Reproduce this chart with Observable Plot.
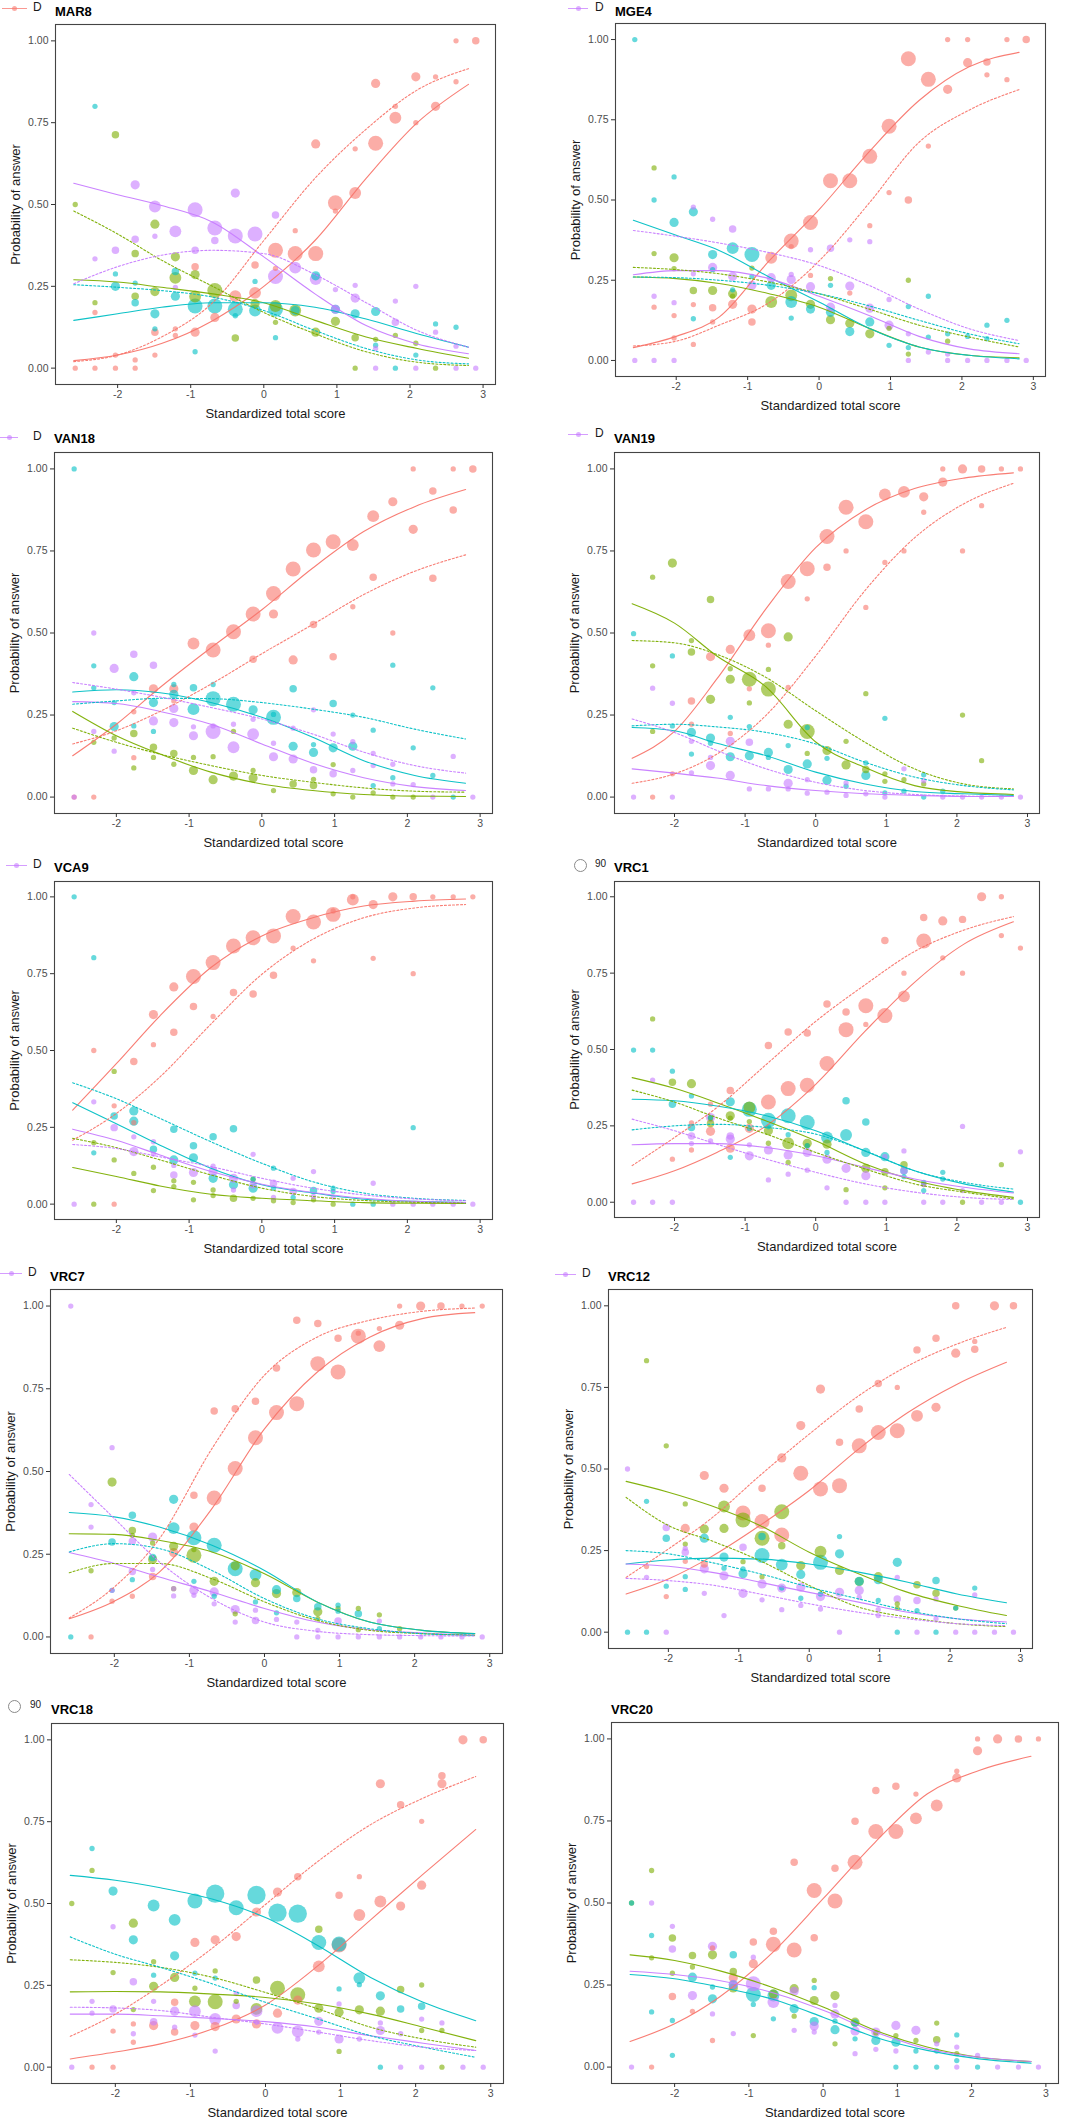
<!DOCTYPE html>
<html><head><meta charset="utf-8">
<script src="https://cdn.jsdelivr.net/npm/d3@7"></script>
<script src="https://cdn.jsdelivr.net/npm/@observablehq/plot@0.6"></script>
<style>
body{margin:0;background:#fff;font-family:"Liberation Sans",Arial,sans-serif;}
#page{position:relative;width:1075px;height:2119px;overflow:hidden;background:#fff;}
.psvg{position:absolute;}
.title{position:absolute;font-weight:bold;font-size:13px;color:#000;line-height:16px;white-space:nowrap;}
.legtxt{position:absolute;font-size:12px;color:#1a1a1a;line-height:14px;}
.legline{position:absolute;height:0;border-top:1.2px solid;}
.legdot{position:absolute;width:5px;height:5px;border-radius:50%;}
.legcirc{position:absolute;width:11px;height:11px;border-radius:50%;border:1px solid #8a8a8a;background:#fff;}
</style></head><body><div id="page"></div><script>
// ---------- shared data ----------
// answer options keyed by their ggplot hue (red, green, cyan, purple)
const SERIES = ["red","green","cyan","purple"];
const SERIES_IDS = ["opt1","opt2","opt3","opt4"];
const SERIES_COLORS = ["#F8766D","#7CAE00","#00BFC4","#C77CFF"];
const xScore = [-2.58,-2.31,-2.03,-1.76,-1.49,-1.21,-0.94,-0.67,-0.39,-0.12,0.16,0.43,0.71,0.98,1.25,1.53,1.80,2.08,2.35,2.63,2.90];
const xKnots = [-2.6,-2,-1.4,-0.7,0,0.7,1.4,2.1,2.8];
const xTicks = [-2,-1,0,1,2,3];
const yTicks = [0,0.25,0.5,0.75,1];
// points: [index into xScore, probability, relative count]

// ---------- MAR8 ----------
const MAR8_pts = {
 red:[[0,0,1],[1,0,1],[1,.17,1],[2,0,1],[2,.04,1],[3,0,1],[3,.025,1],[4,.04,1],[4,.11,2],[5,.12,1],[5,.10,1],[6,.11,3],[6,.31,2],[7,.155,3],[8,.22,5],[9,.23,5],[9,.315,2],[10,.36,8],[10,.305,1],[11,.35,8],[11,.42,1],[12,.35,8],[12,.685,3],[13,.505,8],[13,.48,1],[14,.535,5],[14,.67,1],[15,.687,8],[15,.87,3],[16,.765,5],[16,.80,1],[17,.89,3],[17,.75,1],[18,.80,3],[18,.89,1],[19,.875,1],[19,1,1],[20,1,2]],
 green:[[0,.5,1],[1,.2,1],[2,.713,2],[3,.35,2],[3,.22,2],[4,.44,3],[4,.234,3],[5,.34,3],[5,.276,5],[6,.286,3],[6,.219,5],[7,.237,8],[8,.092,2],[9,.197,3],[10,.19,5],[10,.14,1],[11,.176,5],[12,.11,3],[13,.143,3],[14,.093,2],[14,0,1],[15,.088,1],[16,.10,1],[17,.076,1],[18,0,1]],
 cyan:[[1,.80,1],[2,.288,1],[2,.25,3],[3,.26,1],[3,.20,2],[4,.166,3],[4,.12,1],[5,.295,2],[5,.22,3],[6,.19,8],[6,.05,1],[7,.19,8],[8,.18,8],[8,.16,1],[9,.265,1],[9,.176,5],[10,.18,8],[10,.093,1],[11,.176,3],[12,.282,3],[13,.18,3],[14,.166,3],[15,.173,3],[15,.07,1],[16,0,1],[17,.04,1],[18,.135,1],[19,.125,1]],
 purple:[[1,.334,1],[2,.36,2],[3,.56,3],[3,.394,2],[4,.494,5],[4,.403,1],[5,.418,5],[5,.247,1],[6,.484,8],[6,.36,2],[7,.428,8],[7,.39,2],[8,.404,8],[8,.535,3],[9,.41,8],[10,.28,8],[10,.468,2],[11,.307,5],[12,.272,5],[13,.24,1],[13,.18,3],[14,.214,3],[14,.253,1],[15,.06,1],[15,0,1],[16,.14,2],[16,.205,1],[17,.25,1],[17,0,1],[18,.11,1],[19,.067,1],[19,0,1],[20,0,1]]
};
const MAR8_solid = {
 red:[.023,.04,.075,.145,.25,.39,.58,.75,.867],
 green:[.27,.263,.247,.227,.2,.146,.095,.06,.03],
 cyan:[.146,.166,.186,.2,.2,.186,.15,.105,.064],
 purple:[.565,.53,.497,.446,.34,.227,.13,.074,.044]
};
const MAR8_dotted = {
 red:[.02,.04,.095,.2,.39,.58,.73,.85,.915],
 green:[.48,.41,.33,.25,.17,.105,.05,.018,.008],
 cyan:[.255,.247,.237,.217,.176,.115,.06,.025,.013],
 purple:[.258,.31,.345,.36,.35,.286,.20,.115,.064]
};

// ---------- MGE4 ----------
const MGE4_pts = {
 red:[[1,.166,1],[2,.14,1],[2,.07,1],[3,.174,1],[3,.05,1],[4,.164,2],[4,.12,1],[5,.175,3],[6,.16,3],[6,.12,2],[7,.32,5],[8,.372,8],[8,.355,1],[9,.43,8],[9,.265,1],[10,.56,8],[11,.56,8],[11,.21,1],[12,.636,8],[12,.42,1],[13,.73,8],[13,.523,1],[14,.94,8],[14,.50,2],[15,.876,8],[15,.668,1],[16,.845,3],[16,1,1],[17,.928,3],[17,1,1],[18,.93,2],[18,.89,1],[19,.875,1],[19,1,1],[20,1,2]],
 green:[[1,.60,1],[1,.333,1],[2,.32,3],[2,.286,1],[3,.218,2],[4,.218,3],[5,.208,3],[5,.2,1],[6,.288,1],[7,.182,5],[8,.203,5],[9,.175,3],[10,.255,1],[10,.127,3],[11,.116,3],[12,.083,3],[13,.10,1],[14,.25,1],[14,.02,1],[16,.06,1]],
 cyan:[[0,1,1],[1,.50,1],[2,.572,1],[2,.43,3],[3,.463,3],[3,.13,1],[4,.33,3],[4,.283,1],[5,.35,5],[5,.22,1],[6,.33,8],[6,.262,1],[7,.234,3],[8,.182,5],[8,.132,1],[9,.16,3],[10,.234,1],[10,.15,3],[11,.09,3],[12,.12,3],[13,.047,1],[14,.168,1],[14,.04,1],[15,.2,1],[15,.073,1],[16,.083,1],[17,.075,1],[18,.11,1],[18,.068,1],[19,.125,1]],
 purple:[[0,0,1],[1,0,1],[2,0,1],[1,.2,1],[2,.18,1],[3,.478,1],[3,.27,1],[4,.44,1],[4,.29,3],[5,.41,2],[5,.262,3],[6,.234,3],[7,.258,3],[8,.252,3],[8,.268,1],[9,.345,1],[9,.23,3],[10,.35,2],[10,.166,3],[11,.376,1],[11,.232,3],[12,.37,1],[12,.163,3],[13,.19,1],[13,.11,3],[14,.083,1],[14,0,1],[15,.026,1],[16,.02,1],[16,0,1],[17,0,1],[18,0,1],[19,0,1],[20,0,1]]
};
const MGE4_solid = {
 red:[.04,.075,.135,.31,.47,.65,.81,.915,.96],
 green:[.26,.255,.24,.208,.166,.1,.042,.016,.008],
 cyan:[.437,.39,.343,.26,.182,.1,.042,.016,.005],
 purple:[.267,.28,.28,.255,.2,.14,.075,.036,.021]
};
const MGE4_dotted = {
 red:[.045,.06,.11,.18,.31,.49,.68,.78,.844],
 green:[.29,.283,.27,.244,.208,.16,.11,.073,.042],
 cyan:[.26,.258,.25,.234,.208,.17,.125,.083,.052],
 purple:[.405,.387,.366,.336,.296,.234,.16,.099,.062]
};

// ---------- VAN18 ----------
const VAN18_pts = {
 red:[[0,0,1],[1,0,1],[3,.26,1],[3,.12,1],[4,.33,3],[5,.33,3],[5,.293,1],[6,.468,5],[7,.448,8],[8,.504,8],[9,.558,8],[9,.42,2],[10,.62,8],[10,.558,3],[11,.695,8],[11,.418,3],[12,.753,8],[12,.526,2],[13,.778,8],[13,.428,2],[14,.768,5],[14,.58,1],[15,.856,5],[15,.67,2],[16,.90,3],[16,.50,1],[17,.816,3],[17,1,1],[18,.933,2],[18,.667,2],[19,.875,2],[19,1,1],[20,1,2]],
 green:[[1,.167,1],[2,.18,1],[3,.194,2],[3,.089,1],[4,.152,2],[4,.121,1],[5,.133,2],[5,.10,1],[6,.081,3],[6,.121,1],[7,.053,3],[7,.123,1],[8,.064,3],[8,.2,1],[9,.058,3],[9,.081,1],[10,.02,1],[11,.04,2],[12,.035,2],[12,.054,1],[13,.099,1],[13,.01,1],[14,0,1],[15,.013,1],[16,0,1],[17,0,1]],
 cyan:[[0,1,1],[1,.40,1],[1,.333,1],[2,.288,1],[2,.215,3],[3,.367,3],[3,.217,1],[4,.288,3],[4,.2,1],[5,.343,1],[5,.313,3],[6,.333,2],[6,.268,5],[7,.343,1],[7,.30,8],[8,.283,8],[9,.266,3],[10,.252,1],[10,.243,8],[11,.33,2],[11,.155,3],[12,.16,1],[12,.136,3],[13,.285,2],[13,.15,3],[14,.25,1],[14,.155,3],[15,.204,1],[15,.035,1],[16,.402,1],[16,.059,1],[17,.15,1],[18,.333,1],[18,.066,1],[19,0,1]],
 purple:[[0,0,1],[1,.5,1],[1,.2,1],[2,.392,3],[2,.14,1],[3,.435,2],[3,.318,1],[4,.402,2],[4,.232,3],[5,.27,3],[5,.227,3],[6,.214,1],[6,.187,3],[7,.217,1],[7,.2,8],[8,.222,1],[8,.152,5],[9,.237,1],[9,.192,5],[10,.164,1],[10,.123,3],[11,.21,1],[11,.116,3],[12,.266,1],[12,.083,2],[13,.192,1],[13,.071,2],[14,.169,1],[14,.081,1],[15,.133,1],[15,.096,1],[16,.10,1],[16,.04,1],[17,.038,1],[18,0,1],[19,.124,1],[20,0,1]]
};
const VAN18_solid = {
 red:[.126,.222,.334,.455,.571,.698,.809,.885,.937],
 green:[.261,.187,.131,.076,.04,.02,.008,.003,.002],
 cyan:[.32,.327,.318,.288,.243,.182,.111,.066,.042],
 purple:[.291,.285,.261,.222,.162,.103,.059,.032,.02]
};
const VAN18_dotted = {
 red:[.162,.202,.261,.344,.437,.526,.617,.688,.738],
 green:[.21,.167,.131,.096,.066,.045,.028,.018,.015],
 cyan:[.283,.293,.301,.30,.288,.268,.243,.207,.177],
 purple:[.349,.329,.305,.273,.238,.192,.137,.096,.073]
};

// ---------- VAN19 ----------
const VAN19_pts = {
 red:[[1,0,1],[2,.071,1],[3,.293,2],[3,.222,1],[4,.428,3],[5,.45,3],[5,.194,1],[6,.493,5],[6,.33,1],[7,.507,8],[7,.463,1],[8,.657,8],[8,.334,1],[9,.696,8],[9,.604,1],[10,.794,8],[10,.70,2],[11,.883,8],[11,.75,1],[12,.839,8],[12,.578,1],[13,.922,5],[13,.715,1],[14,.93,5],[14,.75,1],[15,.915,3],[15,.868,1],[16,.96,3],[16,1,1],[17,1,3],[17,.75,1],[18,1,2],[18,.888,1],[19,1,1],[20,1,1]],
 green:[[1,.4,1],[1,.67,1],[1,.2,1],[2,.713,3],[3,.477,1],[3,.442,2],[4,.602,2],[4,.298,3],[5,.391,1],[5,.359,3],[6,.359,8],[6,.287,1],[7,.389,1],[7,.329,8],[8,.488,3],[8,.222,3],[9,.2,8],[9,.133,1],[10,.142,3],[11,.17,1],[11,.098,3],[12,.315,1],[12,.084,2],[13,.071,1],[13,.048,1],[14,.053,1],[15,.04,1],[17,.25,1],[18,.111,1]],
 cyan:[[0,.498,1],[2,.43,1],[2,.217,1],[3,.197,3],[3,.131,1],[4,.18,3],[4,.164,1],[5,.243,1],[5,.123,3],[6,.215,1],[6,.126,3],[7,.136,3],[7,.121,1],[8,.157,1],[8,.084,3],[9,.212,1],[9,.101,3],[10,.118,1],[10,.051,3],[11,.033,1],[12,.104,1],[12,.066,3],[13,.24,1],[13,.013,1],[14,.018,1],[15,.068,1],[15,0,1],[16,.018,1]],
 purple:[[0,0,1],[2,0,1],[1,.332,1],[2,.286,1],[3,.17,1],[3,.074,1],[4,.121,1],[4,.096,3],[5,.17,3],[5,.066,3],[6,.167,2],[6,.025,1],[7,.025,1],[8,.042,3],[8,.025,1],[9,.053,1],[9,.012,1],[10,.015,1],[11,.043,1],[11,.005,1],[12,.01,1],[13,0,1],[14,.086,1],[15,.05,1],[16,0,1],[17,0,1],[18,0,1],[19,0,1],[20,0,1]]
};
const VAN19_solid = {
 red:[.118,.2,.36,.575,.76,.875,.94,.972,.988],
 green:[.589,.53,.43,.335,.168,.09,.035,.015,.008],
 cyan:[.212,.202,.164,.126,.076,.04,.017,.01,.005],
 purple:[.086,.073,.058,.035,.02,.01,.005,.002,.002]
};
const VAN19_dotted = {
 red:[.042,.071,.131,.25,.43,.63,.79,.894,.956],
 green:[.477,.47,.435,.364,.263,.167,.086,.04,.025],
 cyan:[.217,.222,.214,.197,.162,.106,.061,.035,.022],
 purple:[.238,.197,.142,.086,.045,.02,.008,.003,.002]
};

// ---------- VCA9 ----------
const VCA9_pts = {
 red:[[1,.5,1],[2,.32,1],[2,0,1],[3,.464,2],[3,.265,1],[4,.617,3],[4,.519,1],[5,.707,3],[5,.559,2],[6,.741,8],[6,.643,2],[7,.786,8],[7,.611,1],[8,.84,8],[8,.689,2],[9,.867,8],[9,.684,2],[10,.873,8],[10,.745,2],[11,.936,8],[11,.833,1],[12,.918,8],[12,.792,1],[13,.943,8],[13,.954,1],[14,.991,5],[14,1,1],[15,.975,3],[15,.80,1],[16,1,3],[17,1,2],[17,.75,1],[18,1,1],[19,1,1],[20,1,1]],
 green:[[1,.2,1],[1,0,1],[2,.432,1],[2,.144,1],[3,.1,1],[4,.12,1],[4,.044,1],[5,.076,1],[5,.057,1],[6,.071,1],[6,.014,1],[7,.046,1],[7,.028,1],[8,.019,2],[9,.081,1],[9,.019,1],[10,.011,1],[11,.005,1],[12,.014,1],[13,0,1]],
 cyan:[[0,1,1],[1,.802,1],[1,.167,1],[2,.287,2],[3,.303,3],[3,.27,3],[4,.179,2],[5,.244,2],[5,.144,3],[6,.19,2],[6,.151,3],[7,.219,2],[7,.084,3],[8,.245,2],[8,.063,3],[9,.081,1],[9,.052,3],[10,.117,1],[10,.052,1],[11,.022,1],[12,.044,2],[13,.041,1],[13,.052,1],[14,0,1],[15,0,1],[17,.249,1]],
 purple:[[0,0,1],[1,.333,1],[2,.249,2],[3,.219,1],[3,.171,3],[4,.203,1],[4,.163,1],[5,.126,1],[5,.095,2],[6,.103,3],[7,.124,1],[7,.106,3],[8,.084,3],[8,.046,1],[9,.162,1],[9,.063,2],[10,.068,2],[10,.022,1],[11,.084,1],[11,.041,2],[12,.106,1],[12,.025,1],[13,.023,1],[15,.068,1],[16,0,1],[17,0,1],[18,0,1],[19,0,1],[20,0,1]]
};
const VCA9_solid = {
 red:[.306,.457,.613,.77,.873,.932,.97,.986,.993],
 green:[.119,.09,.059,.032,.019,.011,.005,.003,.002],
 cyan:[.33,.262,.192,.117,.063,.036,.016,.009,.005],
 purple:[.244,.208,.16,.106,.065,.038,.019,.009,.005]
};
const VCA9_dotted = {
 red:[.208,.295,.414,.586,.748,.862,.932,.964,.975],
 green:[.214,.184,.144,.095,.052,.025,.012,.006,.003],
 cyan:[.395,.343,.279,.203,.133,.073,.036,.019,.012],
 purple:[.194,.181,.154,.122,.084,.052,.03,.017,.011]
};

// ---------- VRC1 ----------
const VRC1_pts = {
 red:[[2,.141,1],[3,.26,1],[3,.171,1],[4,.321,1],[4,.232,3],[5,.366,2],[5,.177,3],[6,.242,3],[7,.513,2],[7,.328,8],[8,.557,2],[8,.372,8],[9,.554,2],[9,.383,8],[10,.649,2],[10,.454,8],[11,.623,2],[11,.565,8],[12,.582,1],[12,.643,8],[13,.857,2],[13,.611,8],[14,.75,1],[14,.674,5],[15,.932,2],[15,.855,8],[16,.921,3],[16,.80,1],[17,.926,2],[17,.75,1],[18,1,3],[19,1,1],[19,.873,1],[20,.832,1]],
 green:[[1,.60,1],[2,.393,2],[3,.388,3],[4,.258,2],[4,.275,1],[5,.283,3],[5,.275,1],[6,.31,5],[6,.264,1],[7,.234,3],[7,.193,1],[8,.193,5],[8,.13,1],[9,.193,3],[9,.185,1],[10,.19,3],[11,.041,1],[12,.111,3],[13,.10,2],[13,.047,1],[14,.123,2],[15,.058,1],[17,0,1],[19,.123,1]],
 cyan:[[0,.498,1],[1,.498,1],[2,.429,1],[2,.321,2],[3,.348,1],[3,.245,2],[4,.277,1],[5,.329,3],[5,.147,1],[6,.304,8],[6,.241,1],[7,.268,8],[7,.247,1],[8,.283,8],[8,.221,1],[9,.261,8],[9,.185,1],[10,.212,5],[10,.163,1],[11,.22,5],[11,.332,2],[12,.163,3],[12,.263,2],[13,.149,3],[14,.084,1],[14,.103,2],[15,.038,1],[15,.065,1],[16,.098,1],[16,.076,1],[20,0,1]],
 purple:[[0,0,1],[1,.4,1],[1,0,1],[2,0,1],[3,.217,2],[3,.192,1],[4,.277,3],[4,.201,1],[5,.217,2],[5,.207,3],[6,.188,1],[6,.152,3],[7,.171,3],[7,.073,1],[8,.155,3],[8,.092,1],[9,.163,3],[9,.105,1],[10,.141,3],[10,.047,1],[11,.111,3],[11,0,1],[12,.087,3],[12,0,1],[13,.149,1],[13,0,1],[14,.168,1],[14,.103,2],[15,.058,1],[15,0,1],[16,0,1],[17,.248,1],[17,.038,1],[18,0,1],[19,0,1],[20,.165,1]]
};
const VRC1_solid = {
 red:[.06,.103,.163,.25,.386,.56,.72,.845,.918],
 green:[.408,.373,.326,.266,.201,.125,.071,.038,.016],
 cyan:[.337,.332,.315,.283,.234,.168,.103,.06,.033],
 purple:[.188,.192,.192,.179,.152,.114,.076,.049,.03]
};
const VRC1_dotted = {
 red:[.12,.212,.31,.451,.592,.712,.821,.891,.935],
 green:[.367,.328,.277,.223,.163,.109,.06,.033,.011],
 cyan:[.237,.25,.255,.245,.223,.168,.103,.065,.043],
 purple:[.272,.234,.19,.141,.098,.06,.033,.016,.009]
};

// ---------- VRC7 ----------
const VRC7_pts = {
 red:[[1,0,1],[2,.108,1],[3,.123,1],[4,.183,2],[5,.255,3],[6,.332,3],[6,.428,2],[7,.42,8],[7,.683,2],[8,.509,8],[8,.69,2],[9,.602,8],[9,.712,2],[10,.678,8],[10,.813,2],[11,.705,8],[11,.957,2],[12,.826,8],[12,.947,2],[13,.801,8],[13,.903,2],[14,.909,8],[14,.918,1],[15,.879,5],[15,.932,1],[16,.942,3],[16,1,1],[17,1,3],[18,1,2],[19,1,1],[20,1,1]],
 green:[[1,.2,1],[2,.468,3],[3,.322,2],[3,.307,1],[4,.234,3],[4,.284,1],[5,.274,3],[5,.146,1],[6,.247,8],[6,.264,1],[7,.168,3],[8,.215,3],[8,.07,1],[9,.164,3],[10,.131,3],[11,.134,3],[12,.076,3],[12,.055,1],[13,.086,1],[14,.086,1],[14,.022,1],[15,.067,1],[16,.025,1]],
 cyan:[[0,0,1],[2,.287,2],[2,.141,1],[3,.368,2],[3,.173,1],[4,.24,2],[5,.416,3],[5,.329,5],[6,.30,8],[6,.168,1],[7,.277,8],[7,.123,1],[8,.206,8],[9,.188,5],[9,.106,1],[10,.143,3],[10,.073,1],[11,.116,2],[12,.091,2],[13,.096,1],[13,.078,1],[14,.07,2],[15,.025,1]],
 purple:[[0,1,1],[1,.4,1],[1,.332,1],[2,.572,1],[2,.141,1],[3,.289,2],[3,.198,2],[4,.302,3],[4,.204,1],[5,.146,1],[5,.124,1],[6,.141,3],[6,.126,1],[7,.136,3],[7,.10,1],[8,.083,3],[8,.045,1],[9,.081,1],[9,.05,2],[10,.053,1],[11,.045,1],[11,0,1],[12,.02,1],[12,0,1],[13,.048,2],[13,0,1],[14,0,1],[15,.048,1],[15,0,1],[16,0,1],[17,0,1],[18,0,1],[19,0,1],[20,0,1]]
};
const VRC7_solid = {
 red:[.055,.108,.196,.388,.629,.80,.906,.962,.98],
 green:[.312,.31,.292,.257,.191,.106,.045,.02,.01],
 cyan:[.376,.363,.332,.277,.201,.106,.045,.02,.01],
 purple:[.255,.222,.181,.136,.086,.045,.022,.012,.005]
};
const VRC7_dotted = {
 red:[.057,.151,.297,.569,.791,.906,.957,.984,.994],
 green:[.194,.222,.222,.176,.106,.05,.02,.01,.005],
 cyan:[.257,.282,.267,.201,.116,.055,.025,.01,.005],
 purple:[.491,.358,.227,.116,.045,.017,.007,.004,.003]
};

// ---------- VRC12 ----------
const VRC12_pts = {
 red:[[1,.201,1],[2,.109,1],[3,.318,3],[3,.217,1],[4,.48,3],[4,.209,2],[5,.441,3],[6,.365,8],[7,.339,8],[7,.441,2],[8,.298,8],[8,.534,3],[9,.487,8],[9,.633,3],[10,.439,8],[10,.745,3],[11,.449,8],[11,.582,2],[12,.571,8],[12,.684,2],[13,.612,8],[13,.762,2],[14,.617,8],[14,.75,1],[15,.663,5],[15,.865,2],[16,.689,3],[16,.901,2],[17,.855,3],[17,1,2],[18,.867,2],[18,.891,1],[19,1,3],[20,1,2]],
 green:[[1,.832,1],[2,.571,1],[3,.393,1],[3,.27,1],[4,.316,3],[5,.385,5],[5,.318,3],[6,.344,8],[6,.216,1],[7,.288,8],[7,.17,1],[8,.369,8],[8,.265,2],[9,.204,3],[10,.247,5],[11,.189,3],[12,.155,3],[13,.17,3],[14,.073,1],[14,.087,1],[15,.145,2],[16,.119,2],[17,.074,1]],
 cyan:[[0,0,1],[1,.401,1],[1,0,1],[2,.288,2],[2,.141,1],[3,.17,1],[3,.131,1],[4,.288,3],[5,.23,3],[5,.196,1],[6,.179,3],[6,.194,1],[7,.235,8],[7,.293,2],[8,.207,5],[8,.135,1],[9,.177,3],[9,.104,1],[10,.214,8],[10,.117,1],[11,.24,3],[11,.293,1],[12,.156,3],[13,.161,3],[13,.097,1],[14,.214,3],[14,0,1],[15,.066,1],[16,.158,2],[16,0,1],[17,.074,1],[18,.135,1]],
 purple:[[0,.5,1],[1,.168,1],[2,.321,2],[2,0,1],[3,.245,2],[3,.257,1],[4,.194,3],[4,.119,1],[5,.173,3],[5,.051,1],[6,.26,2],[6,.119,3],[7,.148,3],[7,.099,1],[8,.135,3],[8,.069,1],[9,.138,3],[9,.082,1],[10,.109,3],[10,.071,1],[11,.122,3],[11,0,1],[12,.128,3],[12,.107,1],[13,.069,1],[13,.051,1],[14,.168,1],[14,.102,2],[15,.097,2],[15,0,1],[16,.041,1],[16,.102,1],[17,0,1],[18,.114,1],[18,0,1],[19,0,1],[20,0,1]]
};
const VRC12_solid = {
 red:[.117,.163,.23,.327,.434,.561,.673,.76,.827],
 green:[.462,.429,.388,.327,.245,.179,.122,.082,.051],
 cyan:[.209,.221,.227,.224,.209,.184,.153,.117,.09],
 purple:[.209,.202,.184,.153,.122,.092,.061,.041,.031]
};
const VRC12_dotted = {
 red:[.168,.255,.347,.48,.607,.724,.816,.883,.934],
 green:[.413,.327,.281,.219,.143,.077,.046,.026,.017],
 cyan:[.25,.24,.214,.179,.138,.102,.066,.041,.026],
 purple:[.165,.158,.145,.117,.087,.061,.041,.026,.02]
};

// ---------- VRC18 ----------
const VRC18_pts = {
 red:[[1,0,1],[2,0,1],[2,.11,1],[3,.132,1],[3,.076,1],[4,.127,3],[5,.198,2],[5,.107,2],[6,.381,3],[6,.127,3],[7,.389,3],[7,.124,3],[8,.399,3],[8,.147,3],[9,.474,3],[9,.132,3],[10,.535,3],[10,.165,3],[11,.582,2],[11,.205,3],[12,.308,5],[13,.525,2],[13,.373,8],[14,.582,1],[14,.465,5],[15,.866,3],[15,.506,5],[16,.802,2],[16,.492,3],[17,.751,1],[17,.556,3],[18,.89,2],[18,.866,3],[19,1,3],[20,1,2]],
 green:[[0,.5,1],[1,.601,1],[2,.289,1],[3,.44,3],[3,.176,1],[4,.322,1],[4,.247,3],[5,.274,3],[6,.241,1],[6,.201,5],[7,.294,1],[7,.2,8],[8,.201,1],[9,.266,2],[9,.178,5],[10,.241,8],[11,.221,8],[12,.421,2],[12,.18,3],[13,.168,3],[13,.048,1],[14,.175,3],[15,.171,3],[16,.237,2],[17,.251,1],[17,.112,1],[18,.112,1],[18,0,1]],
 cyan:[[1,.668,1],[2,.538,3],[3,.389,3],[4,.494,5],[4,.281,1],[5,.45,5],[5,.34,3],[6,.508,8],[6,.287,1],[7,.53,12],[7,.272,1],[8,.487,8],[9,.526,12],[10,.472,12],[11,.469,12],[12,.381,8],[13,.376,8],[13,.239,1],[14,.272,5],[14,.252,1],[15,.218,3],[15,0,1],[16,.178,2],[17,.186,2]],
 purple:[[0,0,1],[1,.201,1],[1,.165,1],[2,.429,1],[2,.178,2],[3,.261,2],[3,.102,1],[4,.201,1],[4,.139,2],[5,.171,3],[5,.122,1],[6,.171,5],[6,.098,1],[7,.147,5],[7,.049,1],[8,.225,1],[8,.188,2],[9,.171,5],[9,.137,1],[10,.12,5],[11,.109,5],[11,.086,1],[12,.14,3],[12,.107,1],[13,.193,1],[13,.086,3],[14,.086,1],[15,.135,1],[15,.112,3],[16,.102,1],[16,0,1],[17,.147,1],[17,0,1],[18,.135,1],[19,0,1],[20,0,1]]
};
const VRC18_solid = {
 red:[.025,.046,.071,.117,.19,.31,.45,.59,.726],
 green:[.23,.231,.23,.223,.213,.193,.162,.122,.081],
 cyan:[.586,.571,.548,.513,.457,.371,.274,.198,.142],
 purple:[.162,.162,.157,.149,.139,.122,.096,.073,.051]
};
const VRC18_dotted = {
 red:[.094,.162,.249,.365,.497,.629,.741,.822,.888],
 green:[.328,.32,.305,.274,.228,.178,.122,.086,.061],
 cyan:[.398,.345,.305,.254,.198,.147,.096,.061,.03],
 purple:[.183,.181,.173,.152,.132,.107,.081,.061,.051]
};

// ---------- VRC20 ----------
const VRC20_pts = {
 red:[[1,0,1],[2,.215,2],[3,.17,1],[4,.363,1],[4,.081,1],[5,.272,3],[6,.381,2],[6,.315,3],[7,.414,2],[7,.374,8],[8,.624,2],[8,.357,8],[9,.538,8],[9,.394,2],[10,.506,8],[10,.606,2],[11,.624,8],[11,.749,2],[12,.718,8],[12,.843,2],[13,.718,8],[13,.856,2],[14,.758,5],[14,.832,1],[15,.797,5],[16,.881,3],[16,.902,1],[17,.964,3],[17,1,1],[18,1,3],[19,1,2],[20,1,1]],
 green:[[0,.5,1],[1,.599,1],[1,.333,1],[2,.393,2],[2,.286,1],[3,.34,2],[3,.305,1],[4,.342,3],[5,.291,2],[5,.241,3],[6,.096,1],[7,.223,3],[8,.239,3],[8,.155,1],[9,.264,1],[9,.203,3],[10,.218,3],[10,.071,1],[11,.137,3],[12,.104,1],[13,.096,1],[14,.081,1],[15,.134,1],[15,.083,2],[16,.041,1]],
 cyan:[[0,.5,1],[1,.401,1],[1,.168,1],[2,.142,1],[2,.036,1],[3,.274,3],[4,.244,1],[4,.208,3],[5,.342,2],[5,.251,3],[6,.221,8],[6,.191,1],[7,.218,5],[7,.147,1],[8,.178,3],[9,.242,1],[9,.139,3],[10,.14,1],[10,.114,3],[11,.134,2],[11,.086,1],[12,.081,3],[13,.076,3],[13,0,1],[14,.049,1],[14,0,1],[15,.049,1],[15,0,1],[16,.098,1],[16,.02,1],[17,0,1]],
 purple:[[0,0,1],[1,.5,1],[2,.429,1],[2,.36,2],[3,.218,3],[4,.368,3],[4,.162,1],[5,.102,1],[5,.252,3],[6,.335,1],[6,.254,8],[7,.198,5],[8,.231,3],[8,.112,1],[9,.107,1],[9,.125,3],[10,.188,1],[10,.162,3],[11,.041,1],[11,.11,3],[12,.107,3],[12,.054,1],[13,.127,3],[13,.049,1],[14,.112,3],[15,.071,1],[16,.061,1],[16,0,1],[17,.036,1],[18,0,1],[19,0,1],[20,0,1]]
};
const VRC20_solid = {
 red:[.078,.132,.213,.345,.513,.685,.832,.904,.947],
 green:[.342,.325,.294,.244,.183,.112,.061,.03,.017],
 cyan:[.282,.269,.244,.208,.152,.091,.051,.025,.012],
 purple:[.292,.282,.264,.228,.173,.107,.056,.03,.017]
};
const VRC20_dotted = null;

// ---------- layout (page pixels) ----------
const RED = "#F8766D", PURPLE = "#C77CFF";
const panels = [
 {title:"MAR8",  pts:MAR8_pts,  solid:MAR8_solid,  dotted:MAR8_dotted,  frame:[55,24,495,384],   ty:12,   leg:{kind:"line",color:RED,x0:2,x1:27,y:8,lx:33}},
 {title:"MGE4",  pts:MGE4_pts,  solid:MGE4_solid,  dotted:MGE4_dotted,  frame:[615,23,1045,376], ty:12,   leg:{kind:"line",color:PURPLE,x0:568,x1:588,y:8,lx:595}},
 {title:"VAN18", pts:VAN18_pts, solid:VAN18_solid, dotted:VAN18_dotted, frame:[54,452,492,813],  ty:439,  leg:{kind:"line",color:PURPLE,x0:0,x1:18,y:437,lx:33}},
 {title:"VAN19", pts:VAN19_pts, solid:VAN19_solid, dotted:VAN19_dotted, frame:[614,452,1039,813],ty:439,  leg:{kind:"line",color:PURPLE,x0:568,x1:588,y:434,lx:595}},
 {title:"VCA9",  pts:VCA9_pts,  solid:VCA9_solid,  dotted:VCA9_dotted,  frame:[54,881,492,1219], ty:868,  leg:{kind:"line",color:PURPLE,x0:6,x1:27,y:865,lx:33}},
 {title:"VRC1",  pts:VRC1_pts,  solid:VRC1_solid,  dotted:VRC1_dotted,  frame:[614,881,1039,1217],ty:868, leg:{kind:"circle",cx:580,y:865,lx:595,text:"90"}},
 {title:"VRC7",  pts:VRC7_pts,  solid:VRC7_solid,  dotted:VRC7_dotted,  frame:[50,1289,502,1653],ty:1277, leg:{kind:"line",color:PURPLE,x0:0,x1:22,y:1273,lx:28}},
 {title:"VRC12", pts:VRC12_pts, solid:VRC12_solid, dotted:VRC12_dotted, frame:[608,1289,1032,1648],ty:1277,leg:{kind:"line",color:PURPLE,x0:555,x1:576,y:1274,lx:582}},
 {title:"VRC18", pts:VRC18_pts, solid:VRC18_solid, dotted:VRC18_dotted, frame:[51,1723,503,2083],ty:1710, leg:{kind:"circle",cx:14,y:1706,lx:30,text:"90"}},
 {title:"VRC20", pts:VRC20_pts, solid:VRC20_solid, dotted:VRC20_dotted, frame:[611,1722,1058,2083],ty:1710, leg:null}
];

const page = document.getElementById("page");
const M = {l:55, t:6, r:12, b:45};

function curveRows(obj){
  const rows = [];
  if (!obj) return rows;
  SERIES.forEach((s, j) => (obj[s] || []).forEach((y, k) => rows.push({x: xKnots[k], y, s: SERIES_IDS[j]})));
  return rows;
}

for (const p of panels) {
  const [L, T, R, B] = p.frame;
  const ptRows = [];
  SERIES.forEach((s, j) => { for (const [i, y, n] of (p.pts[s] || [])) ptRows.push({x: xScore[i], y, n, s: SERIES_IDS[j]}); });
  const solidRows = curveRows(p.solid);
  const dottedRows = curveRows(p.dotted);

  const chart = Plot.plot({
    width: (R - L) + M.l + M.r,
    height: (B - T) + M.t + M.b,
    marginLeft: M.l, marginRight: M.r, marginTop: M.t, marginBottom: M.b,
    style: {fontFamily: "'Liberation Sans', Arial, sans-serif", fontSize: "10.5px", color: "#4d4d4d", background: "#fff", overflow: "visible"},
    x: {domain: [-2.85, 3.17]},
    y: {domain: [-0.05, 1.05]},
    r: {type: "sqrt", domain: [0, 16], range: [0, 10.6]},
    color: {type: "ordinal", domain: SERIES_IDS, range: SERIES_COLORS},
    marks: [
      Plot.dot(ptRows, {x: "x", y: "y", r: "n", fill: "s", fillOpacity: 0.6, stroke: "none"}),
      Plot.line(solidRows, {x: "x", y: "y", z: "s", stroke: "s", strokeWidth: 1.1, strokeOpacity: 0.95, curve: "monotone-x"}),
      Plot.line(dottedRows, {x: "x", y: "y", z: "s", stroke: "s", strokeWidth: 1.1, strokeOpacity: 0.95, strokeDasharray: "2,2", curve: "monotone-x"}),
      Plot.frame({stroke: "#444", strokeWidth: 1.1}),
      Plot.axisX({ticks: xTicks, tickFormat: d => String(d), tickSize: 4, tickPadding: 2, label: null, stroke: "#333"}),
      Plot.axisY({ticks: yTicks, tickFormat: d3.format(".2f"), tickSize: 4, tickPadding: 3, label: null, stroke: "#333"}),
      Plot.text(["Standardized total score"], {frameAnchor: "bottom", dy: 29, lineAnchor: "middle", textAnchor: "middle", fontSize: 13, fill: "#1a1a1a", text: d => d}),
      Plot.text(["Probability of answer"], {frameAnchor: "left", dx: -40, rotate: -90, lineAnchor: "middle", textAnchor: "middle", fontSize: 13, fill: "#1a1a1a", text: d => d})
    ]
  });
  chart.classList.add("psvg");
  chart.style.left = (L - M.l) + "px";
  chart.style.top = (T - M.t) + "px";
  page.appendChild(chart);

  const t = document.createElement("div");
  t.className = "title";
  t.textContent = p.title;
  t.style.left = L + "px";
  t.style.top = (p.ty - 8) + "px";
  page.appendChild(t);

  const lg = p.leg;
  if (lg) {
    if (lg.kind === "line") {
      const ln = document.createElement("div");
      ln.className = "legline";
      ln.style.left = lg.x0 + "px"; ln.style.width = (lg.x1 - lg.x0) + "px";
      ln.style.top = lg.y + "px"; ln.style.borderTopColor = lg.color; ln.style.opacity = 0.75;
      page.appendChild(ln);
      const dt = document.createElement("div");
      dt.className = "legdot";
      dt.style.left = ((lg.x0 + lg.x1) / 2 - 2.5) + "px"; dt.style.top = (lg.y - 2) + "px";
      dt.style.background = lg.color; dt.style.opacity = 0.6;
      page.appendChild(dt);
    } else {
      const c = document.createElement("div");
      c.className = "legcirc";
      c.style.left = (lg.cx - 6) + "px"; c.style.top = (lg.y - 6) + "px";
      page.appendChild(c);
    }
    const tx = document.createElement("div");
    tx.className = "legtxt";
    tx.textContent = lg.text || "D";
    if (lg.text) tx.style.fontSize = "10px";
    tx.style.left = lg.lx + "px"; tx.style.top = (lg.y - 8) + "px";
    page.appendChild(tx);
  }
}
</script></body></html>
